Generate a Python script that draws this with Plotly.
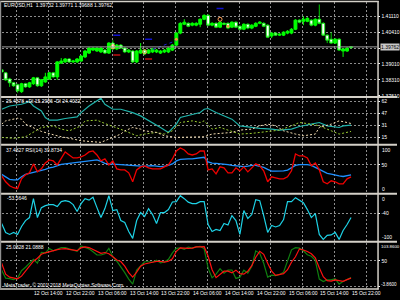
import plotly.graph_objects as go

W, H = 400, 300
FONT = "Liberation Sans"
FS = 5
GRID = "#8c8c8c"
SEP = "#d4d0c8"

# ---------------- data ----------------
bar_open = [1.3875,1.3862,1.3835,1.3818,1.3809,1.3779,1.3814,1.3800,1.3814,1.3840,
 1.3805,1.3822,1.3835,1.3862,1.3844,1.3905,1.3910,1.3923,1.3910,1.3910,
 1.3914,1.3932,1.3949,1.3962,1.3958,1.3954,1.3962,1.3949,1.3993,1.3967,
 1.3984,1.3971,1.3954,1.3958,1.3910,1.3949,1.3962,1.3949,1.3954,1.3954,
 1.3949,1.3954,1.3954,1.3962,1.3984,1.4037,1.4076,1.4080,1.4072,1.4072,
 1.4076,1.4098,1.4115,1.4072,1.4080,1.4063,1.4080,1.4080,1.4063,1.4085,
 1.4067,1.4054,1.4076,1.4059,1.4067,1.4080,1.4080,1.4072,1.4024,1.4037,
 1.4028,1.4028,1.4037,1.4037,1.4054,1.4094,1.4089,1.4089,1.4094,1.4072,
 1.4098,1.4080,1.4028,1.4010,1.3993,1.4010,1.3958,1.3958,1.39732]
bar_high = [1.3879,1.3866,1.3840,1.3822,1.3814,1.3818,1.3818,1.3822,1.3844,1.3844,
 1.3835,1.3862,1.3866,1.3866,1.3914,1.3927,1.3927,1.3927,1.3919,1.3927,
 1.3940,1.3962,1.3975,1.3975,1.3975,1.3975,1.3967,1.3997,1.4006,1.3989,
 1.3989,1.3975,1.3967,1.3962,1.3962,1.3993,1.3967,1.3967,1.3971,1.3967,
 1.3962,1.3967,1.3975,1.3989,1.4041,1.4085,1.4098,1.4085,1.4085,1.4085,
 1.4102,1.4120,1.4120,1.4085,1.4085,1.4089,1.4085,1.4085,1.4089,1.4089,
 1.4072,1.4080,1.4080,1.4076,1.4085,1.4089,1.4085,1.4076,1.4041,1.4041,
 1.4037,1.4045,1.4050,1.4059,1.4098,1.4098,1.4111,1.4107,1.4098,1.4102,
 1.4163,1.4085,1.4032,1.4041,1.4015,1.4015,1.3971,1.3975,1.39771]
bar_low = [1.3862,1.3827,1.3800,1.3800,1.3774,1.3774,1.3796,1.3796,1.3809,1.3800,
 1.3800,1.3818,1.3831,1.3840,1.3831,1.3901,1.3905,1.3905,1.3905,1.3905,
 1.3910,1.3927,1.3945,1.3958,1.3954,1.3949,1.3945,1.3945,1.3962,1.3962,
 1.3967,1.3949,1.3949,1.3905,1.3905,1.3945,1.3940,1.3945,1.3949,1.3949,
 1.3945,1.3949,1.3949,1.3958,1.3980,1.4032,1.4072,1.4063,1.4067,1.4067,
 1.4063,1.4094,1.4067,1.4067,1.4059,1.4059,1.4072,1.4054,1.4059,1.4059,
 1.4050,1.4050,1.4054,1.4054,1.4063,1.4076,1.4063,1.4015,1.4015,1.4024,
 1.4024,1.4024,1.4032,1.4032,1.4050,1.4080,1.4072,1.4085,1.4067,1.4067,
 1.4076,1.4024,1.3993,1.3989,1.3989,1.3958,1.3932,1.3954,1.39688]
bar_close = [1.3866,1.3831,1.3818,1.3805,1.3783,1.3814,1.3800,1.3818,1.3840,1.3805,
 1.3831,1.3844,1.3862,1.3844,1.3910,1.3914,1.3923,1.3910,1.3914,1.3923,
 1.3936,1.3958,1.3971,1.3971,1.3971,1.3971,1.3949,1.3993,1.3967,1.3984,
 1.3971,1.3954,1.3962,1.3910,1.3958,1.3962,1.3945,1.3962,1.3967,1.3962,
 1.3958,1.3962,1.3971,1.3984,1.4037,1.4080,1.4085,1.4067,1.4080,1.4080,
 1.4098,1.4115,1.4072,1.4080,1.4063,1.4085,1.4076,1.4059,1.4085,1.4063,
 1.4054,1.4076,1.4059,1.4072,1.4080,1.4085,1.4067,1.4019,1.4037,1.4028,
 1.4032,1.4041,1.4045,1.4054,1.4094,1.4085,1.4098,1.4102,1.4072,1.4098,
 1.4080,1.4028,1.4006,1.3993,1.4010,1.3962,1.3967,1.3971,1.39762]
bars = list(range(len(bar_open)))
bid_price = 1.39762

price_ticks = [1.4111, 1.4041, 1.3971, 1.3901, 1.3831, 1.3761]
price_tick_text = ["1.41110", "1.40410", "1.39710", "1.39010", "1.38310", "1.37610"]

# chart objects on the price pane
band_bars = [29, 37, 55]
band_upper = [1.4028, 1.4010, 1.4145]
band_lower_bars = [29, 37]
band_lower = [1.3940, 1.3923]
trail_bars = [38, 39, 40, 41, 42, 43, 44]
trail_vals = [1.3965, 1.3971, 1.3978, 1.3984, 1.3991, 1.3997, 1.4004]
mark_w_bars = [28, 36, 55]
mark_w_vals = [1.3977, 1.3955, 1.4098]
mark_o_bars = [44, 57]
mark_o_vals = [1.4010, 1.4067]

# ADX(14)
adx_bars = [0,2,5,7,8,10,11,12,14,16,19,20,22,25,26,28,30,33,35,38,40,42,44,45,48,50,51,52,54,55,58,60,63,65,68,70,73,75,78,80,82,85,86,88]
adx_vals = [52.3,56.5,58.7,62.1,56.5,50.1,41.6,38.2,38.2,40.4,42.4,48.0,56.5,66.5,58.7,52.3,52.3,48.0,43.7,35.2,28.8,22.4,33.1,41.6,45.9,48.0,52.3,53.2,48.0,45.9,39.5,30.9,28.8,27.6,26.7,25.4,26.7,30.1,33.1,35.2,30.9,28.8,30.9,31.8]
pdi_bars = [0,3,6,8,10,13,15,17,20,21,24,26,29,31,34,36,39,41,43,45,48,50,51,53,55,58,60,63,65,68,70,73,75,78,80,83,85,88]
pdi_vals = [16.0,14.8,16.8,22.4,28.8,30.9,26.7,24.5,30.9,37.3,38.2,33.9,28.8,24.5,18.1,20.3,22.4,20.3,24.5,35.2,37.3,35.2,37.3,26.7,28.8,23.7,20.3,21.2,22.4,24.5,25.4,30.9,35.2,33.1,30.9,24.5,20.3,23.7]
mdi_bars = [0,1,4,5,6,8,10,13,15,18,20,23,25,27,30,31,33,35,36,39,41,44,46,49,51,53,55,58,60,63,65,67,69,71,74,76,79,80,83,85,87,88]
mdi_vals = [33.1,37.3,40.7,39.5,33.1,28.8,23.7,19.4,16.8,13.9,11.7,10.4,9.6,13.9,20.3,24.5,28.8,26.7,24.5,22.4,18.1,16.0,16.0,16.0,16.8,20.3,21.2,22.4,25.4,26.7,30.9,33.1,30.9,24.5,20.3,18.1,20.3,28.8,33.1,37.3,35.2,33.9]
adx_ticks = [62.5, 46.875, 31.25, 15.625]
adx_tick_text = ["62", "47", "31", "15"]

# RSI pane
rsi_main = [35.9,23.3,14.8,10.6,8.5,29.6,38.1,42.3,61.3,44.4,
 50.7,63.4,69.8,67.6,59.2,74.0,86.7,80.3,74.0,74.0,
 76.1,80.3,86.7,88.8,80.3,67.6,71.9,59.2,67.6,50.7,
 48.6,48.6,42.3,23.3,48.6,55.0,57.1,52.9,50.7,50.7,
 50.7,55.0,59.2,71.9,88.8,95.1,90.9,82.4,80.3,82.4,
 88.8,88.8,48.6,50.7,40.2,55.0,52.9,42.3,42.3,52.9,
 46.5,55.0,44.4,52.9,61.3,57.1,46.5,23.3,33.8,31.7,
 29.6,29.6,33.8,46.5,82.4,78.2,78.2,74.0,57.1,63.4,
 48.6,23.3,19.0,25.4,23.3,19.0,19.0,29.6,33.8]
rsi_signal = [39.1,33.8,28.5,27.5,27.5,33.8,39.1,41.2,43.8,45.5,
 47.6,49.7,52.9,54.3,58.1,60.2,61.3,62.4,63.4,64.5,
 65.5,66.6,67.6,69.3,69.8,66.6,62.4,61.3,61.3,60.2,
 59.6,59.2,58.1,57.7,57.1,56.0,56.0,57.1,57.7,56.7,
 55.6,56.7,58.1,61.3,67.6,70.8,71.9,71.9,71.9,72.9,
 75.0,75.5,65.5,63.0,62.4,61.7,61.3,59.6,58.1,57.1,
 56.4,55.6,56.4,58.1,58.1,56.0,53.9,49.7,45.9,45.9,
 45.9,46.5,48.0,53.9,58.1,59.8,59.8,59.8,58.1,54.3,
 49.7,45.5,41.2,39.5,38.5,35.9,34.5,37.0,38.1]

# Williams %R
wpr_vals = [-62.6,-82.1,-86.4,-82.1,-86.4,-69.1,-56.2,-49.7,-8.6,-49.7,
 -28.1,-23.8,-21.6,-21.6,-25.9,-15.1,-13.0,-15.1,-21.6,-36.7,
 -19.4,-8.6,-11.9,-5.4,-28.1,-49.7,-30.2,-2.2,-34.6,-32.4,
 -56.2,-60.5,-79.9,-95.0,-56.2,-38.9,-47.5,-30.2,-43.2,-62.6,
 -38.9,-38.9,-32.4,-15.8,-15.1,-2.2,-8.6,-16.2,-19.4,-19.4,
 -15.1,-15.1,-64.8,-79.9,-75.6,-77.8,-62.6,-65.9,-45.4,-56.2,
 -86.4,-34.6,-51.8,-43.2,-10.8,-13.0,-45.4,-82.1,-67.0,-70.2,
 -67.0,-54.0,-15.1,-15.1,-6.5,-11.9,-17.3,-32.4,-49.7,-41.0,
 -86.4,-97.2,-88.6,-87.5,-82.1,-97.2,-77.8,-64.8,-49.7]

# Stochastic
stoch_main = [38.6,19.7,18.5,16.2,19.7,37.4,45.6,56.2,64.5,55.1,
 81.0,79.8,89.9,84.5,88.1,92.1,92.1,89.2,85.7,83.3,
 96.3,93.2,89.2,82.2,74.6,74.6,77.5,90.4,70.4,59.8,
 46.8,32.7,17.4,5.6,38.6,48.0,58.6,58.6,57.4,62.1,
 56.2,57.9,64.5,79.8,90.4,91.6,88.1,93.5,90.9,94.0,
 95.1,89.2,43.3,20.4,29.1,42.1,31.5,38.6,38.6,19.0,
 22.1,38.6,31.5,48.0,84.5,78.6,55.1,22.1,26.8,25.6,
 28.4,33.9,61.0,86.9,92.1,90.9,84.5,75.1,71.6,62.1,
 17.4,11.5,15.7,15.7,18.5,5.6,11.5,17.4,21.4]
stoch_signal = [55.1,29.1,22.1,19.7,18.1,24.4,36.2,46.8,59.8,66.8,
 76.3,79.8,82.6,85.7,87.4,88.8,89.9,88.1,85.7,85.0,
 91.6,94.0,92.3,88.1,82.2,78.6,80.5,77.5,70.4,62.8,
 59.1,48.0,32.7,22.1,33.9,48.0,53.2,56.0,57.4,59.5,
 59.8,57.9,59.8,65.7,83.3,91.6,90.4,90.4,90.9,94.0,
 94.0,94.4,71.6,39.7,20.9,29.1,36.2,36.2,32.2,38.6,
 30.3,29.1,36.2,49.2,69.2,83.3,76.3,55.1,36.2,26.1,
 27.3,30.3,39.7,57.4,70.4,89.2,86.4,82.9,77.5,68.0,
 44.5,23.2,13.6,12.6,15.7,13.6,12.2,16.2,19.7]

time_tick_bars = [0, 8, 16, 24, 32, 40, 48, 56, 64, 72, 80, 88]
time_tick_labels = ["12 Oct 2018", "12 Oct 14:00", "12 Oct 22:00", "13 Oct 06:00",
                    "13 Oct 14:00", "13 Oct 22:00", "14 Oct 06:00", "14 Oct 14:00",
                    "14 Oct 22:00", "15 Oct 06:00", "15 Oct 14:00", "15 Oct 22:00"]
grid_bars = [3.8, 11.8, 19.8, 27.8, 35.8, 43.8, 51.8, 59.8, 67.8, 75.8, 83.8, 91.8]

# ---------------- layout helpers ----------------
def py(p):
    return 1 - p / H

X0, X1 = 2.0, 380.3
XR = [0.075, 94.65]
panes = [(2.3, 96.7), (98.7, 144.7), (146.7, 194.0), (196.0, 242.3), (244.3, 290.0)]
yranges = [[1.37597, 1.41727], [7.84, 66.72], [0, 100], [-100, 0], [-3.86, 103.86]]

fig = go.Figure()

fig.add_trace(go.Candlestick(
    x=bars, open=bar_open, high=bar_high, low=bar_low, close=bar_close,
    increasing=dict(line=dict(color="#00ff00", width=1), fillcolor="#00ff00"),
    decreasing=dict(line=dict(color="#00ff00", width=0.8), fillcolor="#ffffff"),
    whiskerwidth=0, xaxis="x", yaxis="y", showlegend=False, hoverinfo="skip"))
fig.add_trace(go.Scatter(x=band_bars, y=band_upper, mode="markers", xaxis="x", yaxis="y",
    marker=dict(symbol="line-ew", size=5, line=dict(color="#1010d0", width=1.5)), showlegend=False))
fig.add_trace(go.Scatter(x=band_lower_bars, y=band_lower, mode="markers", xaxis="x", yaxis="y",
    marker=dict(symbol="line-ew", size=5, line=dict(color="#c01010", width=1.5)), showlegend=False))
fig.add_trace(go.Scatter(x=trail_bars, y=trail_vals, mode="lines", xaxis="x", yaxis="y",
    line=dict(color="#2020d0", width=1, dash="dot"), showlegend=False))
fig.add_trace(go.Scatter(x=mark_w_bars, y=mark_w_vals, mode="markers", xaxis="x", yaxis="y",
    marker=dict(symbol="circle-open", size=4, line=dict(color="#ffffff", width=1)), showlegend=False))
fig.add_trace(go.Scatter(x=mark_o_bars, y=mark_o_vals, mode="markers", xaxis="x", yaxis="y",
    marker=dict(symbol="circle", size=3, color="#f0a040"), showlegend=False))

fig.add_trace(go.Scatter(x=adx_bars, y=adx_vals, mode="lines", xaxis="x2", yaxis="y2",
    line=dict(color="#20b2aa", width=1.2), showlegend=False))
fig.add_trace(go.Scatter(x=pdi_bars, y=pdi_vals, mode="lines", xaxis="x2", yaxis="y2",
    line=dict(color="#9acd32", width=1, dash="2px,2px"), showlegend=False))
fig.add_trace(go.Scatter(x=mdi_bars, y=mdi_vals, mode="lines", xaxis="x2", yaxis="y2",
    line=dict(color="#f5deb3", width=1, dash="2px,2px"), showlegend=False))

fig.add_trace(go.Scatter(x=bars, y=rsi_signal, mode="lines", xaxis="x3", yaxis="y3",
    line=dict(color="#1e90ff", width=1.3), showlegend=False))
fig.add_trace(go.Scatter(x=bars, y=rsi_main, mode="lines", xaxis="x3", yaxis="y3",
    line=dict(color="#f00000", width=1.3), showlegend=False))

fig.add_trace(go.Scatter(x=bars, y=wpr_vals, mode="lines", xaxis="x4", yaxis="y4",
    line=dict(color="#1ed2e6", width=1.2), showlegend=False))

fig.add_trace(go.Scatter(x=bars, y=stoch_main, mode="lines", xaxis="x5", yaxis="y5",
    line=dict(color="#108010", width=1.2), showlegend=False))
fig.add_trace(go.Scatter(x=bars, y=stoch_signal, mode="lines", xaxis="x5", yaxis="y5",
    line=dict(color="#ff1010", width=1.2), showlegend=False))

tickfont = dict(family=FONT, size=FS, color="#ffffff")
layout = dict(
    width=W, height=H, margin=dict(l=0, r=0, t=0, b=0),
    paper_bgcolor="#000000", plot_bgcolor="#000000", showlegend=False,
    font=dict(family=FONT, size=FS, color="#ffffff"), boxgap=0.15, boxgroupgap=0.15,
)
ytick_sets = [
    (price_ticks, price_tick_text),
    (adx_ticks, adx_tick_text),
    ([59.2], ["50"]),
    ([-40], ["-40"]),
    ([60.5, 0], ["50", ""]),
]
for k in range(5):
    sfx = "" if k == 0 else str(k + 1)
    top, bot = panes[k]
    xa = dict(domain=[X0 / W, X1 / W], range=XR, anchor="y" + sfx, showticklabels=False,
              tickvals=grid_bars, ticks="", showgrid=True, gridcolor=GRID, gridwidth=1,
              griddash="2px,2px", zeroline=False, showline=False, fixedrange=True)
    if k > 0:
        xa["matches"] = "x"
    else:
        xa["rangeslider"] = dict(visible=False)
    layout["xaxis" + sfx] = xa
    tv, tt = ytick_sets[k]
    layout["yaxis" + sfx] = dict(domain=[py(bot), py(top)], range=yranges[k], anchor="x" + sfx,
              side="right", tickvals=tv, ticktext=tt, ticks="outside", ticklen=2,
              tickcolor="#ffffff", tickfont=tickfont, showgrid=True, gridcolor=GRID,
              gridwidth=1, griddash="2px,2px", zeroline=False, showline=False, fixedrange=True)
fig.update_layout(**layout)

shapes = []
for yy in [97.7, 145.7, 195.0, 243.3]:
    shapes.append(dict(type="line", xref="paper", yref="paper", x0=0, x1=1, y0=py(yy), y1=py(yy),
                       line=dict(color=SEP, width=2)))
for yy in [1.5, 291.0]:
    shapes.append(dict(type="line", xref="paper", yref="paper", x0=0, x1=381.6 / W, y0=py(yy), y1=py(yy),
                       line=dict(color=SEP, width=1.5)))
shapes.append(dict(type="line", xref="paper", yref="paper", x0=380.9 / W, x1=380.9 / W, y0=py(1), y1=py(291.5),
                   line=dict(color=SEP, width=1.5)))
shapes.append(dict(type="line", xref="paper", yref="paper", x0=0.6 / W, x1=0.6 / W, y0=py(1), y1=py(291.5),
                   line=dict(color="#909090", width=1.2)))
shapes.append(dict(type="line", xref="paper", yref="y", x0=X0 / W, x1=X1 / W, y0=bid_price, y1=bid_price,
                   line=dict(color="#a0a0a0", width=1)))
fig.update_layout(shapes=shapes)

ann = []
def txt(x, y, s, xref="paper", yref="paper", xanchor="left", yanchor="middle", size=FS, **kw):
    d = dict(x=x, y=y, xref=xref, yref=yref, text=s, showarrow=False, xanchor=xanchor,
             yanchor=yanchor, font=dict(family=FONT, size=size, color=kw.pop("color", "#ffffff")),
             borderpad=0)
    d.update(kw)
    ann.append(d)

txt(3 / W, py(4.7), "EURUSD,H1  1.39732 1.39771 1.39688 1.39762")
txt(5 / W, py(102.0), "26.4878 +DI 15.2986 -DI 24.4032")
txt(5 / W, py(151.5), "37.4827 RSI(14) 39.8734")
txt(6 / W, py(199.5), "-53.5646")
txt(5 / W, py(248.3), "25.0828 21.0888")
txt(3 / W, py(286.7), "MetaTrader, \u00a9 2001-2018 MetaQuotes Software Corp.")
for b, s in zip(time_tick_bars, time_tick_labels):
    txt(b, py(295.3), s, xref="x5")
# edge labels of the indicator panes
txt(383.5 / W, 100, "100", yref="y3", yanchor="top")
txt(383.5 / W, 0, "0", yref="y3", yanchor="bottom")
txt(383.5 / W, 0, "0", yref="y4", yanchor="top")
txt(383.5 / W, -100, "-100", yref="y4", yanchor="bottom")
txt(383.2 / W, 103.86, "103.8600", yref="y5", yanchor="top", size=4.4)
txt(383.2 / W, -3.86, "-3.8600", yref="y5", yanchor="bottom", size=4.6)
# bid price label
txt(382.5 / W, bid_price, "1.39762", yref="y", color="#000000", bgcolor="#c8c8c8")
fig.update_layout(annotations=ann)

fig.write_html("out.html")
